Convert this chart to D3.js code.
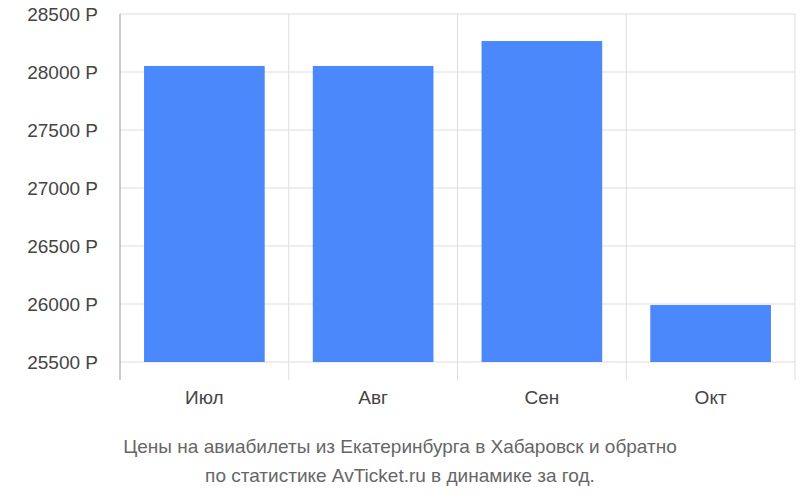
<!DOCTYPE html>
<html>
<head>
<meta charset="utf-8">
<script src="https://cdn.jsdelivr.net/npm/d3@7"></script>
<style>
  body { margin: 0; background: #fff; }
  text { font-family: "Liberation Sans", Arial, sans-serif; }
</style>
</head>
<body>
<svg id="chart" width="800" height="500"></svg>
<script>
const months = ['Июл', 'Авг', 'Сен', 'Окт'];
const prices = [28052, 28052, 28267, 25991];
const yTicks = [25500, 26000, 26500, 27000, 27500, 28000, 28500];
const titleLines = ['Цены на авиабилеты из Екатеринбурга в Хабаровск и обратно',
                    'по статистике AvTicket.ru в динамике за год.'];

(function () {
const svg = d3.select('#chart');
const pLeft = 120, pRight = 795, pTop = 14, pBottom = 380;

let x = d3.scaleBand().domain(months).range([pLeft, pRight]).paddingInner(0.285).paddingOuter(0.1425);
let y = d3.scaleLinear().domain([25500, 28500]).range([362, pTop]);

// horizontal grid
svg.selectAll('.hgrid').data(yTicks).enter().append('line')
    .attr('x1', pLeft).attr('x2', pRight)
    .attr('y1', d => y(d)).attr('y2', d => y(d))
    .attr('stroke', '#ddd').attr('stroke-width', 1);

// vertical grid at band edges
let edges = months.map(m => x(m) - x.step() * x.paddingInner() / 2).concat([pRight]);
svg.selectAll('.vgrid').data(edges).enter().append('line')
    .attr('x1', d => d).attr('x2', d => d)
    .attr('y1', pTop).attr('y2', pBottom)
    .attr('stroke', (d, i) => i === 0 ? '#999' : '#ddd').attr('stroke-width', 1);

svg.selectAll('.bar').data(prices).enter().append('rect')
    .attr('x', (d, i) => x(months[i]))
    .attr('width', x.bandwidth())
    .attr('y', d => y(d))
    .attr('height', d => y(25500) - y(d))
    .attr('fill', '#4a88fc');

svg.selectAll('.ylab').data(yTicks).enter().append('text')
    .attr('x', 98).attr('y', d => y(d) + 7)
    .attr('text-anchor', 'end')
    .attr('font-size', 19).attr('fill', '#444')
    .text(d => d + ' Р');

svg.selectAll('.xlab').data(months).enter().append('text')
    .attr('x', d => x(d) + x.bandwidth() / 2).attr('y', 404)
    .attr('text-anchor', 'middle')
    .attr('font-size', 19).attr('fill', '#444')
    .text(d => d);

svg.selectAll('.title').data(titleLines).enter().append('text')
    .attr('x', 400).attr('y', (d, i) => 453 + i * 29)
    .attr('text-anchor', 'middle')
    .attr('font-size', 19).attr('fill', '#666')
    .text(d => d);
})();
</script>
</body>
</html>
